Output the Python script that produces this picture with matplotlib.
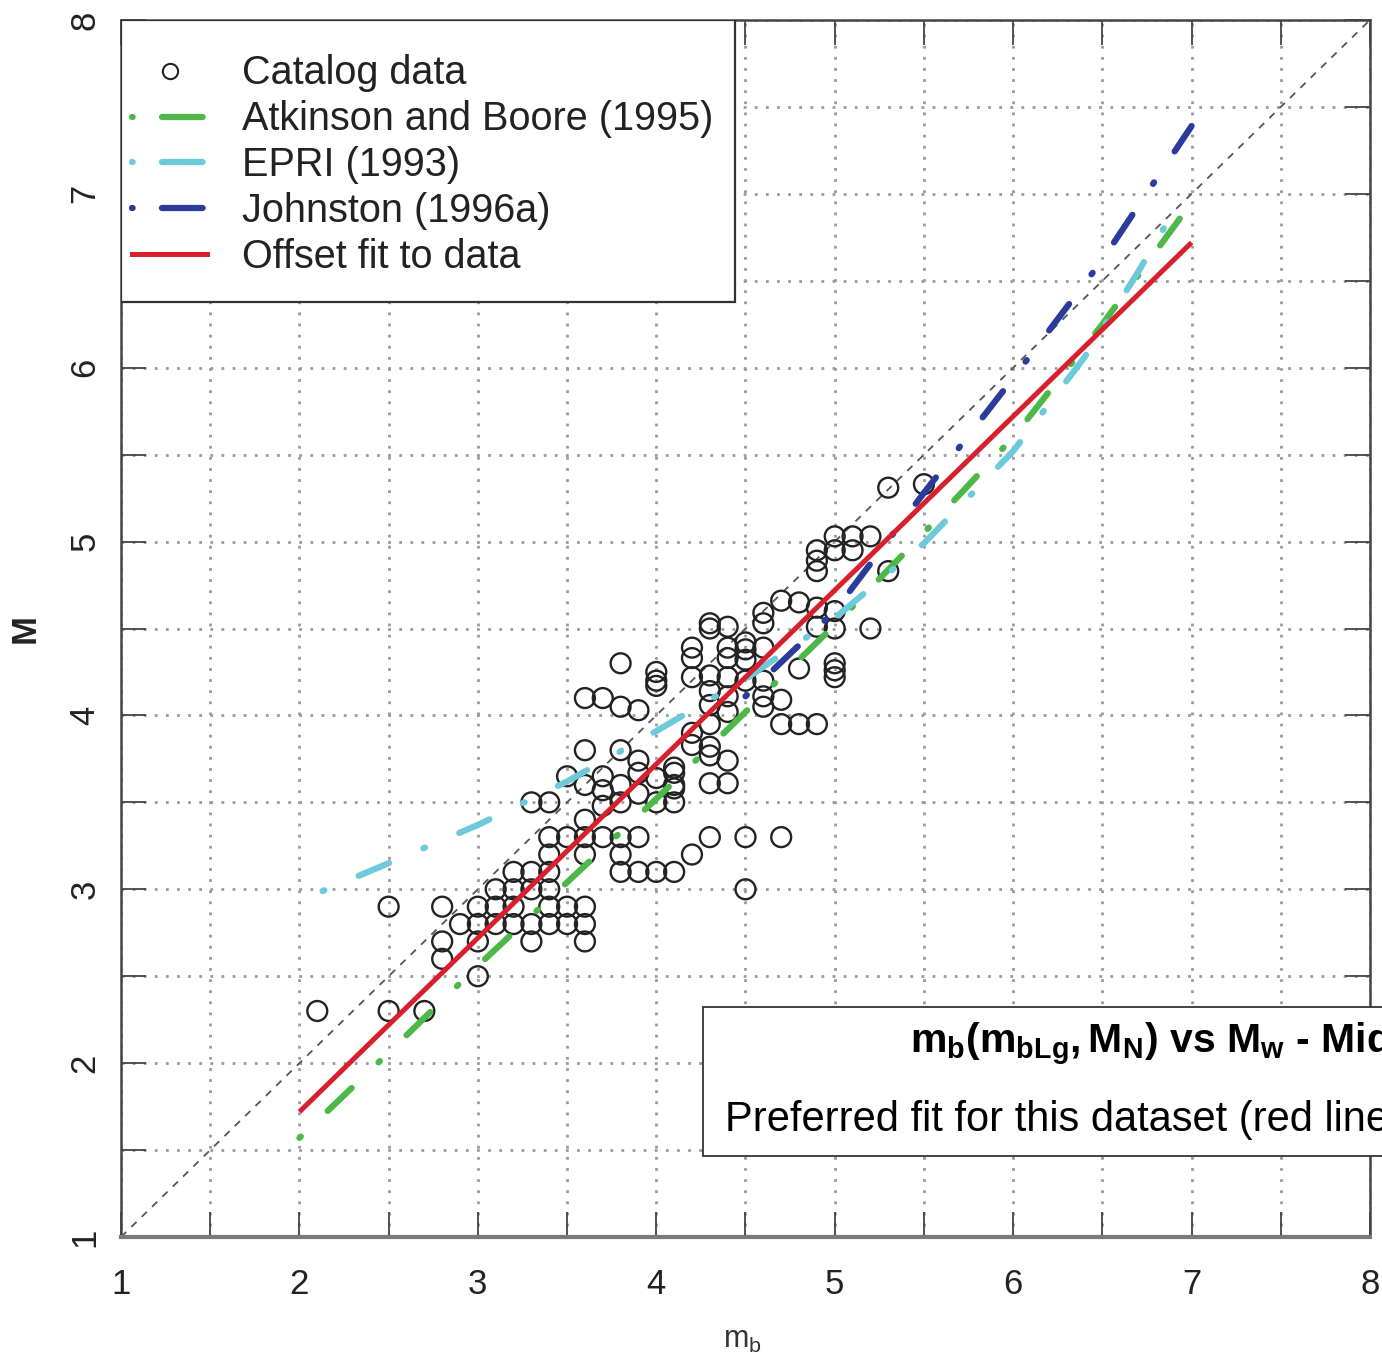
import matplotlib
matplotlib.use("Agg")
import matplotlib.pyplot as plt
from matplotlib.lines import Line2D
from matplotlib.patches import Rectangle
from matplotlib.ticker import MultipleLocator

# ---------------------------------------------------------------
# Fonts
# ---------------------------------------------------------------
plt.rcParams['font.family'] = ['Liberation Sans', 'DejaVu Sans']
plt.rcParams['mathtext.fontset'] = 'custom'
plt.rcParams['mathtext.rm'] = 'Liberation Sans'
plt.rcParams['mathtext.it'] = 'Liberation Sans:italic'
plt.rcParams['mathtext.bf'] = 'Liberation Sans:bold'

# ---------------------------------------------------------------
# Catalog events (mb, M)
# ---------------------------------------------------------------
mb_cat = [
    2.1,
    2.5, 2.5,
    2.7,
    2.8, 2.8, 2.8,
    2.9,
    3.0, 3.0, 3.0, 3.0,
    3.1, 3.1, 3.1,
    3.2, 3.2, 3.2, 3.2,
    3.3, 3.3, 3.3, 3.3, 3.3,
    3.4, 3.4, 3.4, 3.4, 3.4, 3.4, 3.4,
    3.5, 3.5, 3.5, 3.5,
    3.6, 3.6, 3.6, 3.6, 3.6, 3.6, 3.6, 3.6, 3.6,
    3.7, 3.7, 3.7, 3.7, 3.7,
    3.8, 3.8, 3.8, 3.8, 3.8, 3.8, 3.8, 3.8,
    3.9, 3.9, 3.9, 3.9, 3.9, 3.9,
    4.0, 4.0, 4.0, 4.0, 4.0, 4.0,
    4.1, 4.1, 4.1, 4.1, 4.1, 4.1,
    4.2, 4.2, 4.2, 4.2, 4.2, 4.2,
    4.3, 4.3, 4.3, 4.3, 4.3, 4.3, 4.3, 4.3, 4.3, 4.3,
    4.4, 4.4, 4.4, 4.4, 4.4, 4.4, 4.4, 4.4,
    4.5, 4.5, 4.5, 4.5, 4.5, 4.5,
    4.6, 4.6, 4.6, 4.6, 4.6, 4.6,
    4.7, 4.7, 4.7, 4.7,
    4.8, 4.8, 4.8,
    4.9, 4.9, 4.9, 4.9, 4.9, 4.9,
    5.0, 5.0, 5.0, 5.0, 5.0, 5.0, 5.0,
    5.1, 5.1,
    5.2, 5.2,
    5.3, 5.3,
    5.5,
]
mw_cat = [
    2.3,
    2.9, 2.3,
    2.3,
    2.9, 2.7, 2.6,
    2.8,
    2.9, 2.8, 2.7, 2.5,
    3.0, 2.9, 2.8,
    3.1, 3.0, 2.9, 2.8,
    3.5, 3.1, 3.0, 2.8, 2.7,
    3.5, 3.3, 3.2, 3.1, 3.0, 2.9, 2.8,
    3.65, 3.3, 2.9, 2.8,
    4.1, 3.8, 3.6, 3.4, 3.3, 3.2, 2.9, 2.8, 2.7,
    4.1, 3.65, 3.57, 3.48, 3.3,
    4.3, 4.05, 3.8, 3.6, 3.5, 3.3, 3.2, 3.1,
    4.03, 3.74, 3.67, 3.55, 3.3, 3.1,
    4.25, 4.2, 4.17, 3.64, 3.5, 3.1,
    3.7, 3.67, 3.6, 3.58, 3.5, 3.1,
    4.39, 4.33, 4.22, 3.9, 3.83, 3.2,
    4.53, 4.5, 4.23, 4.14, 4.06, 3.95, 3.82, 3.77, 3.61, 3.3,
    4.51, 4.39, 4.33, 4.22, 4.11, 4.02, 3.74, 3.61,
    4.42, 4.38, 4.32, 4.2, 3.3, 3.0,
    4.59, 4.53, 4.39, 4.2, 4.11, 4.05,
    4.66, 4.09, 3.95, 3.3,
    4.65, 4.27, 3.95,
    4.95, 4.89, 4.83, 4.62, 4.51, 3.95,
    5.03, 4.95, 4.6, 4.5, 4.3, 4.26, 4.22,
    5.03, 4.95,
    5.03, 4.5,
    5.31, 4.83,
    5.33,
]

# ---------------------------------------------------------------
# Published conversion curves and the offset fit
# ---------------------------------------------------------------
ab95_mb = [2.0, 2.5, 3.0, 3.5, 4.0, 4.5, 5.0, 5.5, 6.0, 6.5, 7.0]
ab95_m = [1.57, 2.06, 2.56, 3.04, 3.52, 4.02, 4.52, 5.05, 5.6, 6.25, 6.95]

epri_mb = [2.13, 2.5, 3.0, 3.5, 4.0, 4.5, 5.0, 5.5, 6.0, 6.4, 6.7, 6.9]
epri_m = [2.99, 3.15, 3.37, 3.62, 3.91, 4.21, 4.56, 4.99, 5.52, 6.06, 6.55, 6.9]

j96_mb = [4.5, 5.0, 5.5, 6.0, 6.5, 7.0]
j96_m = [4.11, 4.6, 5.28, 5.94, 6.62, 7.39]

fit_mb = [2.0, 7.0]
fit_m = [1.72, 6.72]

labels = ["Catalog data", "Atkinson and Boore (1995)", "EPRI (1993)",
          "Johnston (1996a)", "Offset fit to data"]

GREEN = "#4cb848"
CYAN = "#6ccadb"
BLUE = "#2a3b9c"
RED = "#d81f2e"
DOTDASH = (0, (0.3, 5.95, 5.3, 5.95))

# ---------------------------------------------------------------
# Figure
# ---------------------------------------------------------------
W, H = 1382, 1361
fig = plt.figure(figsize=(W / 100, H / 100), dpi=100)
ax = fig.add_axes([121 / W, (H - 1237) / H, 1249 / W, 1217 / H])

ax.set_xlim(1, 8)
ax.set_ylim(1, 8)

# dotted grid every half unit
ax.xaxis.set_major_locator(MultipleLocator(1))
ax.yaxis.set_major_locator(MultipleLocator(1))
ax.xaxis.set_minor_locator(MultipleLocator(0.5))
ax.yaxis.set_minor_locator(MultipleLocator(0.5))
ax.grid(which="both", color="#9a9a9a", linestyle=(0, (1, 3)), linewidth=2)
ax.set_axisbelow(True)

# 1:1 line
ax.axline((1, 1), slope=1, color="#555555", lw=1.3,
          linestyle=(0, (4, 4)), zorder=1)

ax.scatter(mb_cat, mw_cat, s=205, facecolors="none", edgecolors="#222222",
           linewidths=1.7, zorder=2)

line_kw = dict(lw=4.5, linestyle=DOTDASH, dash_capstyle="round", zorder=3)
ax.plot(ab95_mb, ab95_m, color=GREEN, **line_kw)
ax.plot(epri_mb, epri_m, color=CYAN, **line_kw)
ax.plot(j96_mb, j96_m, color=BLUE, **line_kw)
ax.plot(fit_mb, fit_m, color=RED, lw=3.6, solid_capstyle="butt", zorder=4)

# ticks: inward on all four sides
ax.tick_params(which="both", direction="in", length=18, width=1.3,
               color="#444444", top=True, right=True)
ax.tick_params(axis="x", labelsize=25, pad=22, labelcolor="#222222")
ax.tick_params(axis="y", labelsize=25, pad=14, labelcolor="#222222",
               labelrotation=90)
for lab in ax.get_yticklabels():
    lab.set_va("center")

for side in ["left", "top", "right"]:
    ax.spines[side].set_linewidth(1.8)
    ax.spines[side].set_color("#444444")
ax.spines["bottom"].set_linewidth(3)
ax.spines["bottom"].set_color("#7a7a7a")

ax.set_xlabel(r"m$_\mathrm{b}$", fontsize=22, color="#333333", va="top")
ax.xaxis.set_label_coords(0.4977, -0.072)
ax.set_ylabel("M", fontsize=25, fontweight="bold", color="#222222")
ax.yaxis.set_label_coords(-0.0633, 0.5)

# ---------------------------------------------------------------
# Legend (frame drawn separately to keep R-style padding)
# ---------------------------------------------------------------
ax.add_patch(Rectangle((0, 0.7683), 0.4916, 0.2317, transform=ax.transAxes,
                       facecolor="white", edgecolor="#333333", lw=1.6,
                       zorder=5))
leg_dash = (0, (0.1, 4.7, 6.5, 10))
handles = [
    Line2D([], [], ls="none", marker="o", markersize=11, mfc="none",
           mec="#222222", mew=1.5),
    Line2D([], [], color=GREEN, lw=4.5, ls=leg_dash, dash_capstyle="round"),
    Line2D([], [], color=CYAN, lw=4.5, ls=leg_dash, dash_capstyle="round"),
    Line2D([], [], color=BLUE, lw=4.5, ls=leg_dash, dash_capstyle="round"),
    Line2D([], [], color=RED, lw=3.6),
]
leg = ax.legend(handles, labels, loc="upper left",
                bbox_to_anchor=(11 / 1249, 1 - 34.5 / 1217),
                frameon=False, fontsize=28.5, borderpad=0, borderaxespad=0,
                handlelength=1.9, handletextpad=0.88, labelspacing=0.2,
                numpoints=1)
leg.set_zorder(6)
for t in leg.get_texts():
    t.set_color("#222222")

# ---------------------------------------------------------------
# Annotation box, running off the right edge
# ---------------------------------------------------------------
fig.patches.append(Rectangle((703 / W, (H - 1156) / H), 0.6, 149 / H,
                             transform=fig.transFigure, facecolor="white",
                             edgecolor="#333333", lw=1.3, zorder=10))
fig.text(910 / W, (H - 1045) / H,
         r"$\mathbf{m_b(m_{bLg},M_N)}$ vs $\mathbf{M_w}$ - Midcontinent",
         fontsize=29.5, fontweight="bold", va="center", ha="left", zorder=11)
fig.text(725 / W, (H - 1120) / H,
         "Preferred fit for this dataset (red line)",
         fontsize=30, va="center", ha="left", zorder=11)

fig.savefig("out.png", dpi=100)
